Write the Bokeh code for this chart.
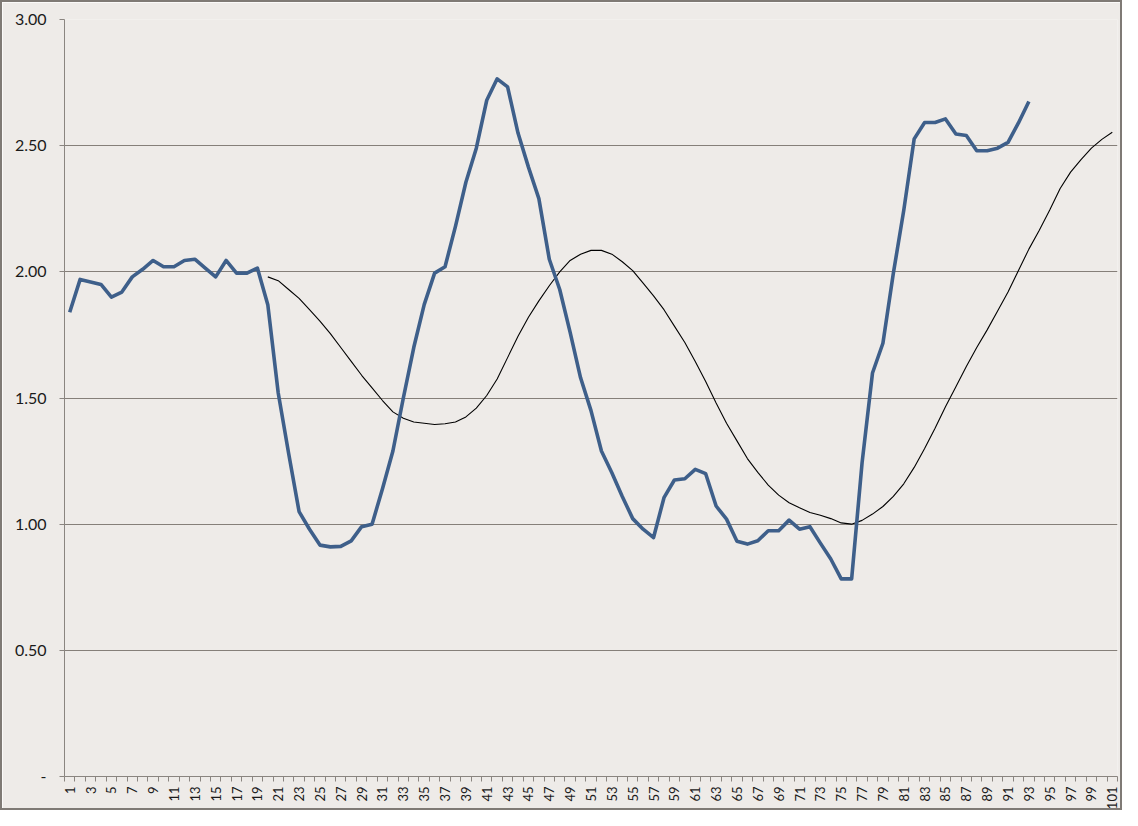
import math
from bokeh.plotting import figure
from bokeh.models import FixedTicker, Range1d, CustomJSTickFormatter
from bokeh.embed import file_html
from bokeh.resources import INLINE

categories = list(range(1, 102))

blue_x = list(range(1, 94))
blue_values = [
    1.84, 1.97, 1.96, 1.95, 1.90, 1.92, 1.98, 2.01, 2.045, 2.02,
    2.02, 2.045, 2.05, 2.015, 1.98, 2.045, 1.995, 1.995, 2.015, 1.87,
    1.52, 1.28, 1.05, 0.98, 0.917, 0.91, 0.912, 0.934, 0.99, 1.00,
    1.14, 1.29, 1.50, 1.70, 1.87, 1.995, 2.02, 2.18, 2.355, 2.49,
    2.68, 2.765, 2.733, 2.55, 2.415, 2.29, 2.05, 1.93, 1.76, 1.58,
    1.45, 1.29, 1.204, 1.11, 1.022, 0.98, 0.947, 1.105, 1.175, 1.18,
    1.217, 1.20, 1.072, 1.02, 0.932, 0.921, 0.934, 0.974, 0.974, 1.016,
    0.98, 0.99, 0.925, 0.862, 0.783, 0.783, 1.243, 1.599, 1.717, 1.994,
    2.244, 2.527, 2.592, 2.592, 2.606, 2.546, 2.54, 2.48, 2.48, 2.49,
    2.513, 2.59, 2.675,
]

trend_x = list(range(20, 102))
trend_values = [
    1.98, 1.965, 1.93, 1.895, 1.85, 1.805, 1.755, 1.70, 1.645, 1.59,
    1.54, 1.49, 1.445, 1.42, 1.405, 1.40, 1.395, 1.398, 1.405, 1.425,
    1.46, 1.51, 1.575, 1.66, 1.745, 1.82, 1.885, 1.945, 2.00, 2.045,
    2.07, 2.085, 2.085, 2.07, 2.04, 2.005, 1.955, 1.905, 1.85, 1.785,
    1.72, 1.645, 1.565, 1.48, 1.40, 1.33, 1.26, 1.205, 1.155, 1.115,
    1.085, 1.065, 1.046, 1.035, 1.022, 1.005, 1.00, 1.015, 1.04, 1.07,
    1.11, 1.16, 1.225, 1.30, 1.38, 1.465, 1.545, 1.625, 1.70, 1.77,
    1.845, 1.92, 2.005, 2.09, 2.165, 2.245, 2.33, 2.395, 2.445, 2.49,
    2.525, 2.553,
]

y_ticks = [0, 0.5, 1.0, 1.5, 2.0, 2.5, 3.0]
x_label_ticks = categories[::2]

BG = "#EEEBE8"
GRID = "#857F79"
AXIS = "#8A8580"
FONT = "Lato"

p = figure(width=1122, height=810, output_backend="svg", toolbar_location=None,
           x_range=Range1d(0.5, 101.5), y_range=Range1d(0, 3.0),
           background_fill_color=BG, border_fill_color=BG,
           min_border_left=62, min_border_right=7, min_border_top=17, min_border_bottom=33)
p.outline_line_color = None
p.styles = {"border": "2px solid #7F7A75", "box-sizing": "border-box"}

p.line(trend_x, trend_values, line_color="#000000", line_width=1.1)
p.line(blue_x, blue_values, line_color="#3E5F8A", line_width=3.6, line_join="round")

# y axis
p.yaxis.ticker = FixedTicker(ticks=y_ticks)
p.yaxis.formatter = CustomJSTickFormatter(code="return tick == 0 ? '-' : tick.toFixed(2);")
p.yaxis.major_tick_out = 5
p.yaxis.major_tick_in = 0
p.yaxis.minor_tick_out = 0
p.yaxis.minor_tick_in = 0
p.yaxis.axis_line_color = AXIS
p.yaxis.major_tick_line_color = AXIS
p.yaxis.major_label_text_font = FONT
p.yaxis.major_label_text_font_size = "16px"
p.yaxis.major_label_text_color = "#1a1a1a"
p.yaxis.major_label_standoff = 13

# x axis
p.xaxis.ticker = FixedTicker(ticks=x_label_ticks,
                             minor_ticks=[c - 0.5 for c in categories] + [101.5])
p.xaxis.major_tick_out = 0
p.xaxis.major_tick_in = 0
p.xaxis.minor_tick_out = 5
p.xaxis.minor_tick_in = 0
p.xaxis.minor_tick_line_color = AXIS
p.xaxis.axis_line_color = AXIS
p.xaxis.major_label_orientation = math.pi / 2
p.xaxis.major_label_text_font = FONT
p.xaxis.major_label_text_font_size = "13px"
p.xaxis.major_label_text_color = "#1a1a1a"
p.xaxis.major_label_standoff = 5

p.xgrid.grid_line_color = None
p.ygrid.ticker = FixedTicker(ticks=y_ticks[1:])
p.ygrid.grid_line_color = GRID
p.ygrid.grid_line_width = 1

open("out.html", "w").write(file_html(p, INLINE))
